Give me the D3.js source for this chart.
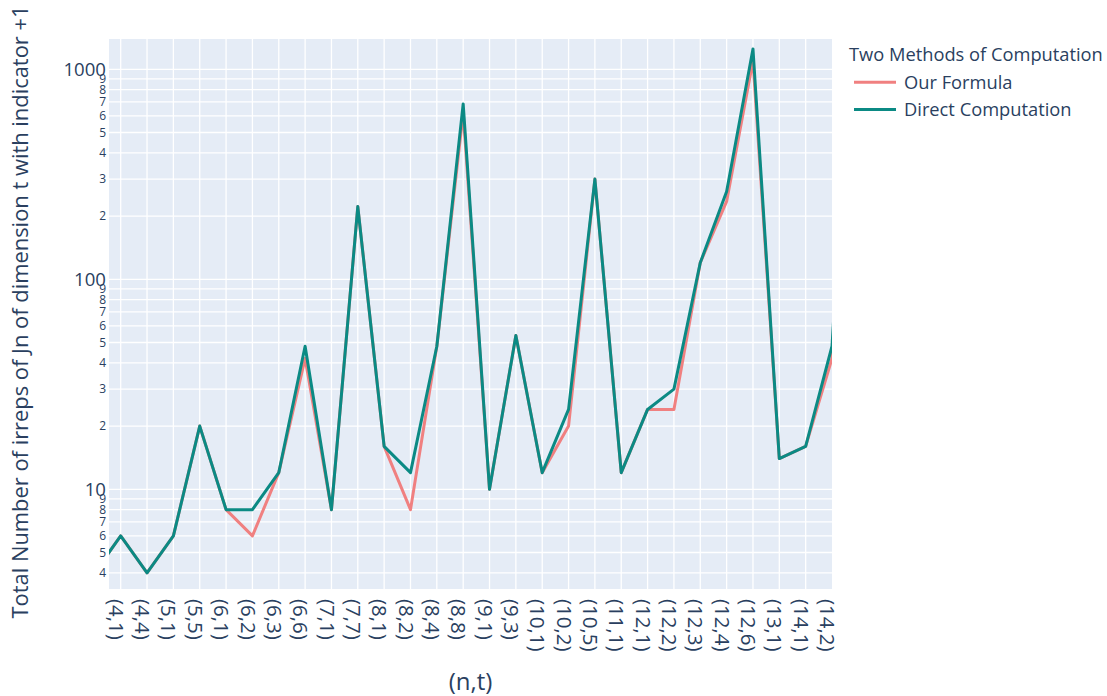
<!DOCTYPE html>
<html>
<head>
<meta charset="utf-8">
<script src="https://cdn.jsdelivr.net/npm/d3@7"></script>
<style>
    body { margin: 0; background: #fff; }
    svg text { font-family: "Open Sans", verdana, arial, sans-serif; fill: #2a3f5f; }
</style>
</head>
<body>
<div id="chart"></div>
<script>
'use strict';
// (n,t) pairs, first and last sit just outside the visible range
var categories = ["(3,3)", "(4,1)", "(4,4)", "(5,1)", "(5,5)", "(6,1)", "(6,2)", "(6,3)", "(6,6)",
    "(7,1)", "(7,7)", "(8,1)", "(8,2)", "(8,4)", "(8,8)", "(9,1)", "(9,3)", "(10,1)", "(10,2)",
    "(10,5)", "(11,1)", "(12,1)", "(12,2)", "(12,3)", "(12,4)", "(12,6)", "(13,1)", "(14,1)",
    "(14,2)", "(14,7)"];
var ourFormula = [4, 6, 4, 6, 20, 8, 6, 12, 42, 8, 222, 16, 8, 48, 620, 10, 54, 12, 20,
    300, 12, 24, 24, 120, 235, 1100, 14, 16, 42, 4800];
var directComputation = [4, 6, 4, 6, 20, 8, 8, 12, 48, 8, 222, 16, 12, 48, 684, 10, 54, 12, 24,
    300, 12, 24, 30, 120, 262, 1250, 14, 16, 48, 5200];
var majorTicks = [10, 100, 1000];
var minorTicks = [4, 5, 6, 7, 8, 9, 20, 30, 40, 50, 60, 70, 80, 90, 200, 300, 400, 500, 600, 700, 800, 900];
var seriesNames = ["Our Formula", "Direct Computation"];
var seriesColors = ["#f08080", "#0b8a84"];

(function () {
    var width = 1107, height = 696;
    var mLeft = 109, mRight = 832, mTop = 39, mBottom = 589;

    var svg = d3.select("#chart").append("svg")
        .attr("width", width)
        .attr("height", height);

    var x = d3.scaleLinear()
        .domain([0.556, 28])
        .range([mLeft, mRight]);
    var y = d3.scaleLog()
        .domain([Math.pow(10, 0.5252), Math.pow(10, 3.1443)])
        .range([mBottom, mTop]);

    svg.append("rect")
        .attr("x", mLeft)
        .attr("y", mTop)
        .attr("width", mRight - mLeft)
        .attr("height", mBottom - mTop)
        .attr("fill", "#e5ecf6");

    svg.append("clipPath")
        .attr("id", "plot-clip")
        .append("rect")
        .attr("x", mLeft)
        .attr("y", mTop)
        .attr("width", mRight - mLeft)
        .attr("height", mBottom - mTop);

    // grid
    var shown = categories.map(function (c, i) { return i; }).filter(function (i) {
        return x(i) >= mLeft - 0.5 && x(i) <= mRight + 0.5;
    });
    var grid = svg.append("g").attr("class", "grid");
    grid.selectAll(".vgrid")
        .data(shown.filter(function (i) { return x(i) < mRight - 1; }))
        .enter()
        .append("line")
        .attr("class", "vgrid")
        .attr("x1", function (d) { return x(d); })
        .attr("x2", function (d) { return x(d); })
        .attr("y1", mTop)
        .attr("y2", mBottom)
        .attr("stroke", "#fff")
        .attr("stroke-width", 1.3);
    grid.selectAll(".hgrid")
        .data(majorTicks.concat(minorTicks))
        .enter()
        .append("line")
        .attr("class", "hgrid")
        .attr("x1", mLeft)
        .attr("x2", mRight)
        .attr("y1", function (d) { return y(d); })
        .attr("y2", function (d) { return y(d); })
        .attr("stroke", "#fff")
        .attr("stroke-width", 1.3);

    // y tick labels
    svg.selectAll(".ymajor")
        .data(majorTicks)
        .enter()
        .append("text")
        .attr("class", "ymajor")
        .attr("x", 106)
        .attr("y", function (d) { return y(d); })
        .attr("dy", "0.35em")
        .attr("text-anchor", "end")
        .style("font-size", "18.6px")
        .text(function (d) { return d; });
    svg.selectAll(".yminor")
        .data(minorTicks)
        .enter()
        .append("text")
        .attr("class", "yminor")
        .attr("x", 106)
        .attr("y", function (d) { return y(d); })
        .attr("dy", "0.35em")
        .attr("text-anchor", "end")
        .style("font-size", "12px")
        .text(function (d) { return String(d)[0]; });

    // x tick labels, rotated
    svg.selectAll(".xlab")
        .data(shown)
        .enter()
        .append("text")
        .attr("class", "xlab")
        .attr("transform", function (d) {
            return "translate(" + (x(d) - 4.7) + "," + 599 + ") rotate(90)";
        })
        .attr("dy", "0.35em")
        .style("font-size", "20.5px")
        .text(function (d) { return categories[d]; });

    // lines
    var line = d3.line()
        .x(function (d, i) { return x(i); })
        .y(function (d) { return y(d); });
    var plot = svg.append("g").attr("clip-path", "url(#plot-clip)");
    [ourFormula, directComputation].forEach(function (s, k) {
        plot.append("path")
            .datum(s)
            .attr("d", line)
            .attr("fill", "none")
            .attr("stroke", seriesColors[k])
            .attr("stroke-width", 3)
            .attr("stroke-linejoin", "round");
    });

    // axis titles
    svg.append("text")
        .attr("transform", "translate(20,312) rotate(-90)")
        .attr("text-anchor", "middle")
        .attr("dy", "0.35em")
        .style("font-size", "21.9px")
        .text("Total Number of irreps of Jn of dimension t with indicator +1");
    svg.append("text")
        .attr("x", (mLeft + mRight) / 2)
        .attr("y", 682)
        .attr("text-anchor", "middle")
        .attr("dy", "0.35em")
        .style("font-size", "24px")
        .text("(n,t)");

    // legend
    var legend = svg.append("g").attr("class", "legend");
    legend.append("text")
        .attr("x", 849)
        .attr("y", 55)
        .attr("dy", "0.35em")
        .style("font-size", "18.3px")
        .text("Two Methods of Computation");
    var items = legend.selectAll(".item")
        .data(seriesNames)
        .enter()
        .append("g")
        .attr("class", "item")
        .attr("transform", function (d, i) { return "translate(0," + (82.3 + i * 27.3) + ")"; });
    items.append("line")
        .attr("x1", 854)
        .attr("x2", 896)
        .attr("stroke", function (d, i) { return seriesColors[i]; })
        .attr("stroke-width", 3);
    items.append("text")
        .attr("x", 904)
        .attr("dy", "0.35em")
        .style("font-size", "18.3px")
        .text(function (d) { return d; });
})();
</script>
</body>
</html>
